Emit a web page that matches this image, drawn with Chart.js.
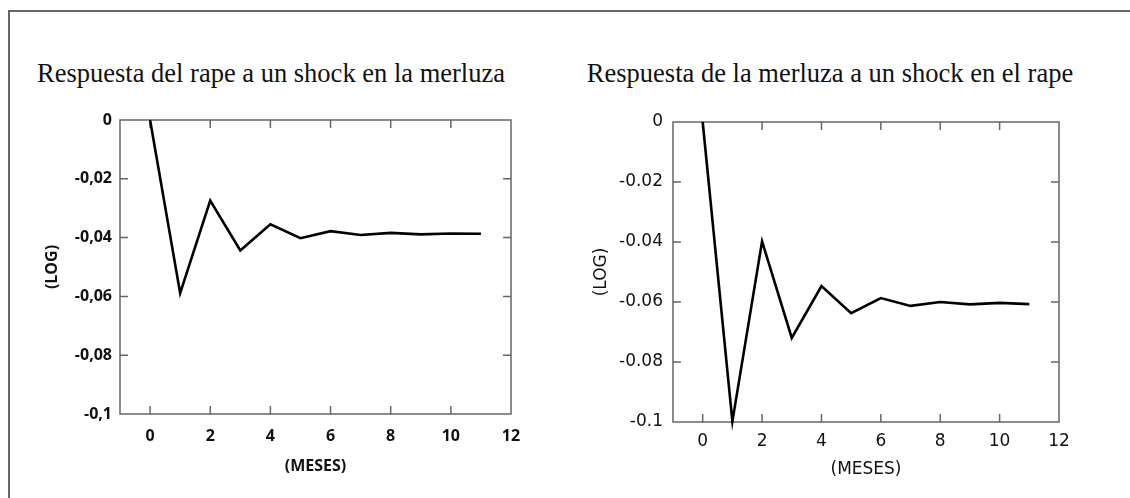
<!DOCTYPE html>
<html lang="es">
<head>
    <meta charset="UTF-8">
    <title>Respuesta a un shock</title>
    <script src="https://cdn.jsdelivr.net/npm/chart.js"></script>
    <style>
        body {
            margin: 0;
            padding: 0;
            background-color: #fff;
            width: 1130px;
            height: 498px;
            overflow: hidden;
            position: relative;
        }

        .frame {
            position: absolute;
            left: 8px;
            top: 10px;
            width: 1140px;
            height: 500px;
            border: 2px solid #666;
            box-sizing: border-box;
        }

        .title {
            position: absolute;
            top: 60px;
            width: 560px;
            margin-left: -280px;
            text-align: center;
            font-family: "Liberation Serif", "Times New Roman", serif;
            font-size: 26.5px;
            line-height: 26.5px;
            color: #111;
            white-space: nowrap;
        }

        .chart-box {
            position: absolute;
            top: 100px;
            width: 565px;
            height: 398px;
        }
    </style>
</head>
<body>
<div class="frame"></div>
<div class="title" style="left:271px">Respuesta del rape a un shock en la merluza</div>
<div class="title" style="left:830px">Respuesta de la merluza a un shock en el rape</div>
<div class="chart-box" style="left:0px"><canvas id="rapeChart"></canvas></div>
<div class="chart-box" style="left:565px"><canvas id="merluzaChart"></canvas></div>

<script>
    // Datos
    var meses = [0, 1, 2, 3, 4, 5, 6, 7, 8, 9, 10, 11];
    var respuestaRape = [0, -0.0589, -0.0274, -0.0444, -0.0355, -0.0402, -0.0378, -0.0391, -0.0384, -0.0389, -0.0386, -0.0387];
    var respuestaMerluza = [0, -0.0998, -0.0398, -0.0720, -0.0547, -0.0637, -0.0587, -0.0613, -0.0600, -0.0608, -0.0603, -0.0607];

    var xTicks = [0, 2, 4, 6, 8, 10, 12];
    var yTicks = [0, -0.02, -0.04, -0.06, -0.08, -0.1];
    var yLabelsComa = ['0', '-0,02', '-0,04', '-0,06', '-0,08', '-0,1'];
    var yLabelsPunto = ['0', '-0.02', '-0.04', '-0.06', '-0.08', '-0.1'];

    // marco y marcas hacia dentro
    var marcoPlugin = {
        id: 'marco',
        beforeDatasetsDraw: function(chart) {
            var ctx = chart.ctx;
            var a = chart.chartArea;
            var xs = chart.scales.x, ys = chart.scales.y;
            var len = 8;
            ctx.save();
            ctx.strokeStyle = '#666';
            ctx.lineWidth = 1.5;
            ctx.strokeRect(a.left, a.top, a.right - a.left, a.bottom - a.top);
            ctx.beginPath();
            xTicks.forEach(function(v) {
                var px = xs.getPixelForValue(v);
                if (px >= a.right - 1) return;
                ctx.moveTo(px, a.top);
                ctx.lineTo(px, a.top + len);
                ctx.moveTo(px, a.bottom);
                ctx.lineTo(px, a.bottom - len);
            });
            yTicks.forEach(function(v) {
                var py = ys.getPixelForValue(v);
                if (py <= a.top + 1 || py >= a.bottom - 1) return;
                ctx.moveTo(a.left, py);
                ctx.lineTo(a.left + len, py);
                ctx.moveTo(a.right, py);
                ctx.lineTo(a.right - len, py);
            });
            ctx.stroke();
            ctx.restore();
        }
    };

    function crearGrafico(id, valores, opts) {
        var ctx = document.getElementById(id).getContext('2d');
        var font = { family: opts.family, size: opts.size, weight: opts.weight };
        return new Chart(ctx, {
            type: 'line',
            data: {
                datasets: [{
                    data: meses.map(function(m, i) { return { x: m, y: valores[i] }; }),
                    borderColor: '#000',
                    borderWidth: 2.6,
                    pointRadius: 0,
                    tension: 0,
                    fill: false,
                    clip: false
                }]
            },
            options: {
                responsive: true,
                maintainAspectRatio: false,
                animation: false,
                layout: { padding: opts.padding },
                plugins: {
                    legend: { display: false },
                    tooltip: { enabled: false }
                },
                scales: {
                    x: {
                        type: 'linear',
                        min: -1,
                        max: 12,
                        grid: { display: false, drawTicks: false },
                        border: { display: false },
                        afterBuildTicks: function(s) { s.ticks = xTicks.map(function(v) { return { value: v }; }); },
                        afterFit: function(s) { s.height = opts.xHeight; },
                        ticks: {
                            color: '#111',
                            font: font,
                            padding: opts.xPad,
                            maxRotation: 0,
                            autoSkip: false
                        },
                        title: {
                            display: true,
                            text: '(MESES)',
                            color: '#111',
                            font: font,
                            padding: { top: 0, bottom: opts.mesesPad }
                        }
                    },
                    y: {
                        type: 'linear',
                        min: -0.1,
                        max: 0,
                        grid: { display: false, drawTicks: false },
                        border: { display: false },
                        afterBuildTicks: function(s) { s.ticks = yTicks.map(function(v) { return { value: v }; }); },
                        afterFit: function(s) { s.width = opts.yWidth; },
                        ticks: {
                            color: '#111',
                            font: font,
                            padding: opts.yPad,
                            autoSkip: false,
                            callback: function(v) {
                                var i = yTicks.findIndex(function(t) { return Math.abs(t - v) < 1e-9; });
                                return opts.yLabels[i];
                            }
                        },
                        title: {
                            display: true,
                            text: '(LOG)',
                            color: '#111',
                            font: font,
                            padding: { top: opts.logPad, bottom: 0 }
                        }
                    }
                }
            },
            plugins: [marcoPlugin]
        });
    }

    crearGrafico('rapeChart', respuestaRape, {
        family: '"Open Sans", sans-serif', size: 16, weight: 'bold',
        padding: { top: 20, right: 54, left: 0, bottom: 0 },
        xHeight: 84, yWidth: 120, xPad: 13, yPad: 8,
        logPad: 43, mesesPad: 22, yLabels: yLabelsComa
    });

    crearGrafico('merluzaChart', respuestaMerluza, {
        family: '"DejaVu Sans", Verdana, sans-serif', size: 17, weight: 'normal',
        padding: { top: 22, right: 71, left: 0, bottom: 0 },
        xHeight: 76, yWidth: 108, xPad: 9, yPad: 10,
        logPad: 26, mesesPad: 18, yLabels: yLabelsPunto
    });
</script>
</body>
</html>
